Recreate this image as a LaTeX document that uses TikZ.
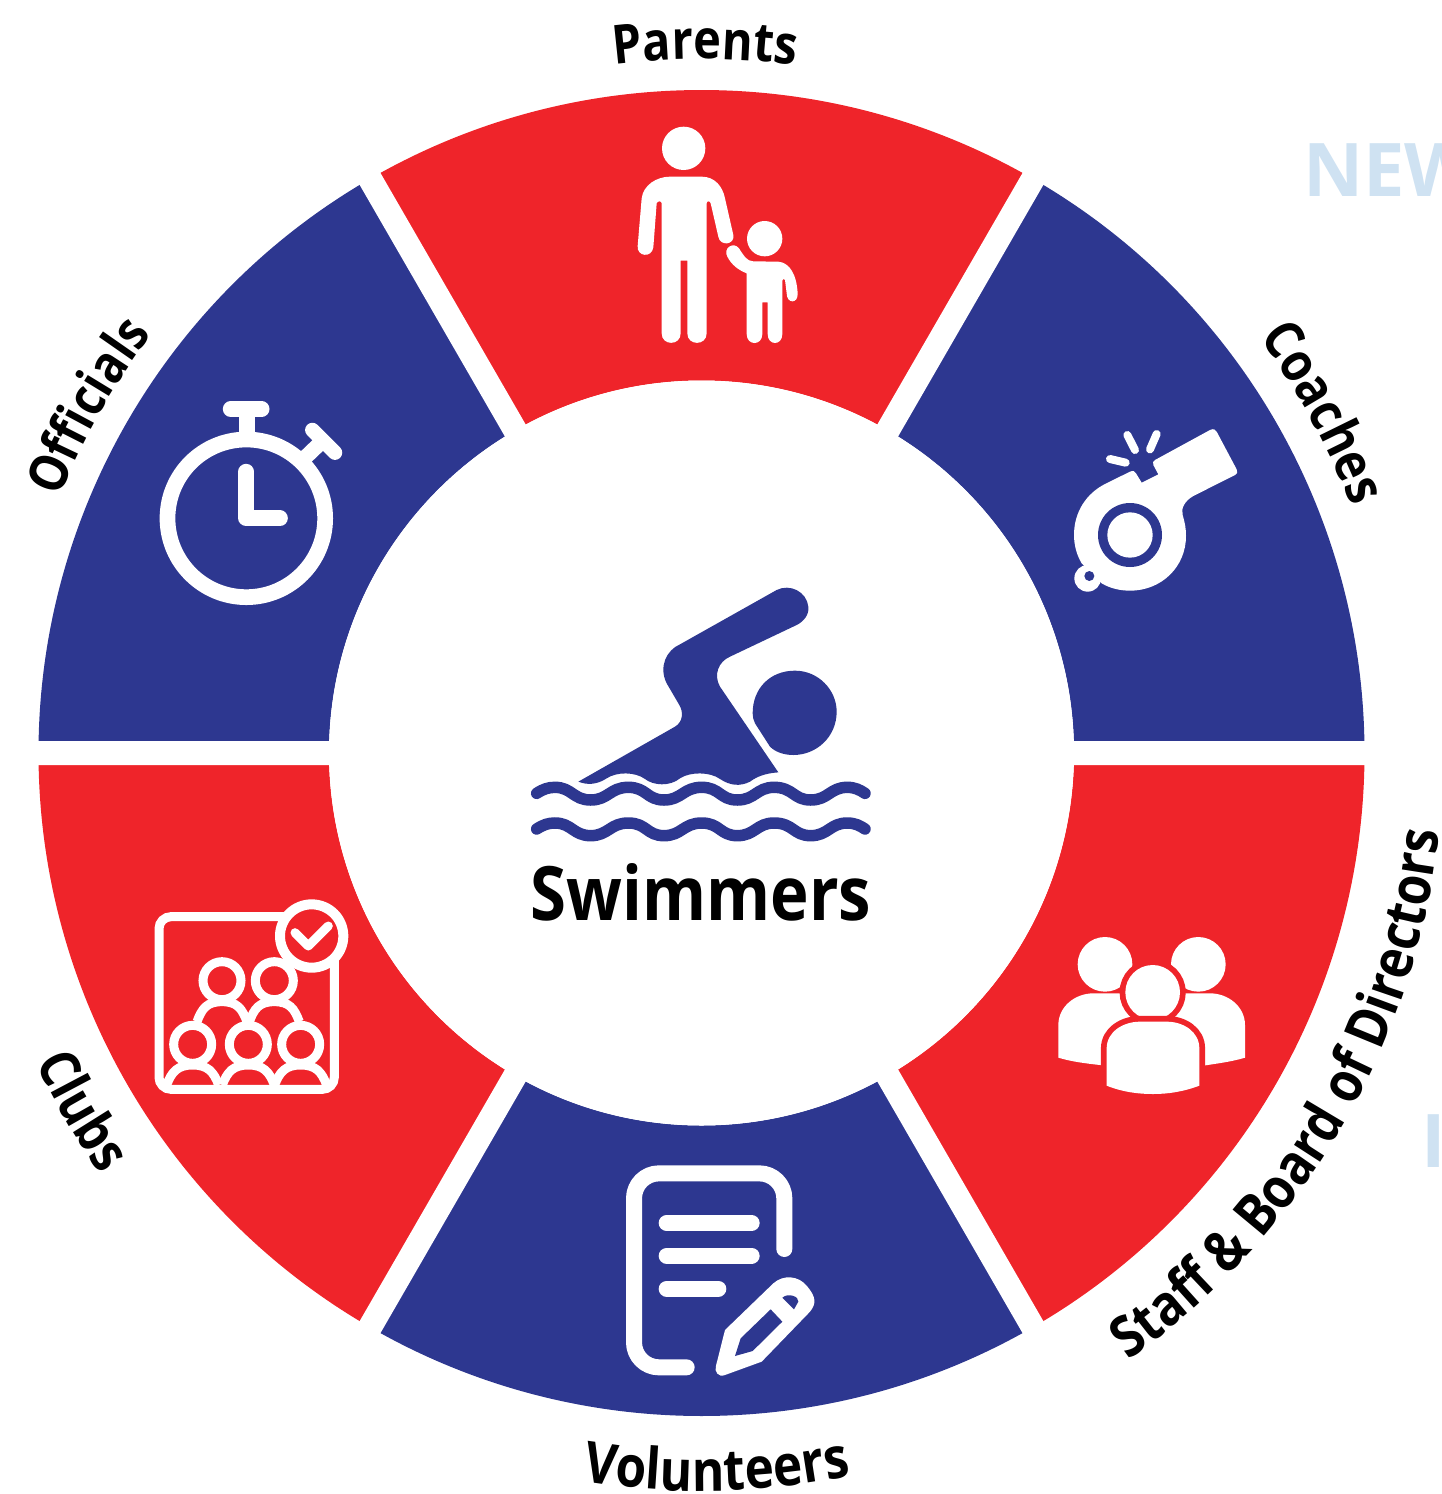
\documentclass[tikz,border=0pt]{standalone}
\usepackage{fontspec}
\setmainfont[FakeStretch=0.87]{Open Sans}
\newfontfamily\fadefont{Open Sans}
\usetikzlibrary{decorations.text}
\definecolor{ringred}{HTML}{EF242A}
\definecolor{ringblue}{HTML}{2D3790}
\definecolor{fadeblue}{HTML}{CFE2F2}
% font size, radius, start angle, end angle, text
\newcommand{\ringlabel}[5][54]{%
  \path[decorate,decoration={text along path,text align=center,text={|\bfseries\fontsize{#1}{60}\selectfont|#5}}]
    (#3:#2) arc (#3:#4:#2);}
\tikzset{
  zoomed/.style 2 args={shift={(#1,#2)},scale=0.33333},
  iconfill/.style={fill=white},
  iconline/.style={draw=white,line cap=round,line join=round,line width=#1},
  halo/.style={preaction={draw=ringred,line width=11.5pt},fill=white},
  waveline/.style={draw=ringblue,line cap=round,line width=11.5pt}
}
\begin{document}
\begin{tikzpicture}[x=1pt,y=-1pt]
\useasboundingbox (0,0) rectangle (1441,1494);

% Faded fragments
\node[anchor=base west,inner sep=0pt,text=fadeblue,font=\fadefont\bfseries\fontsize{74}{80}\selectfont] (newword) at (1303,196) {NEW};
\node[anchor=base west,inner sep=0pt,text=fadeblue,font=\fadefont\bfseries\fontsize{74}{80}\selectfont] (cutword) at (1421,1167) {I};

% Ring
\begin{scope}[shift={(701.5,753)},y=1pt]
\foreach \from/\col in {60/ringred,0/ringblue,-60/ringred,-120/ringblue,180/ringred,120/ringblue}
  \fill[\col] (\from:372.5) -- (\from:663) arc (\from:\from+60:663) -- (\from+60:372.5) arc (\from+60:\from:372.5) -- cycle;
\draw[white,line width=24pt] (180:680) -- (0:680) (60:680) -- (240:680) (120:680) -- (300:680);
\fill[white] (0,0) circle (372.5);

% Labels
\ringlabel{694}{100.7}{78.7}{Parents}
\ringlabel{695}{44.7}{12.7}{Coaches}
\ringlabel[57]{742}{-61.5}{0.5}{Staff {\&} Board of Directors}
\ringlabel[57]{738}{259}{283.4}{Volunteers}
\ringlabel[55]{734}{195}{225}{Clubs}
\ringlabel[53]{691}{165.5}{135.5}{Officials}
\end{scope}

% Swimmer
\begin{scope}[zoomed={520}{575}]
\fill[ringblue] (175,620) -- (465,455) .. controls (490,440) and (490,410) .. (478,390) -- (440,325)
  .. controls (415,275) and (440,225) .. (480,208) -- (770,45) .. controls (810,25) and (860,50) .. (865,95)
  .. controls (868,120) and (850,140) .. (830,150) -- (630,245) .. controls (595,260) and (580,300) .. (600,335)
  -- (775,592) .. controls (735,595) and (710,605) .. (690,620) .. controls (660,635) and (630,632) .. (600,612)
  .. controls (570,590) and (510,590) .. (480,610) .. controls (450,635) and (400,632) .. (375,612)
  .. controls (345,590) and (290,590) .. (260,610) .. controls (230,630) and (200,630) .. (175,620) -- cycle;
\fill[ringblue] (698,415) .. controls (698,340) and (750,287) .. (825,287) .. controls (895,287) and (950,345) .. (950,410)
  .. controls (950,485) and (890,540) .. (820,540) .. controls (790,540) and (765,530) .. (750,515)
  -- (705,445) .. controls (700,435) and (698,425) .. (698,415) -- cycle;
\foreach \wavey in {0,107}
  \draw[waveline,shift={(0,\wavey)}] (50,655) .. controls (70,642) and (85,637) .. (105,637)
    .. controls (155,637) and (160,675) .. (212,675) .. controls (265,675) and (270,637) .. (325,637)
    .. controls (380,637) and (380,675) .. (432,675) .. controls (485,675) and (490,637) .. (545,637)
    .. controls (600,637) and (600,675) .. (652,675) .. controls (705,675) and (710,637) .. (762,637)
    .. controls (820,637) and (820,675) .. (872,675) .. controls (925,675) and (930,637) .. (982,637)
    .. controls (1005,637) and (1020,645) .. (1035,655);
\end{scope}
\node[anchor=base,inner sep=0pt,font=\bfseries\fontsize{75}{90}\selectfont] (swimmers) at (701,920) {Swimmers};

% Parents icon
\begin{scope}[zoomed={620}{110}]
\fill[iconfill] (191,115) circle (65);
\fill[iconfill] (150,200) -- (245,200) .. controls (285,200) and (308,230) .. (315,265) -- (340,375)
  .. controls (345,405) and (300,410) .. (295,380) -- (272,280) .. controls (270,272) and (260,272) .. (260,280)
  -- (260,670) .. controls (260,708) and (202,708) .. (202,670) -- (202,452) -- (182,452) -- (182,670)
  .. controls (182,708) and (125,708) .. (125,670) -- (125,280) .. controls (125,272) and (112,272) .. (110,280)
  -- (100,412) .. controls (95,445) and (50,440) .. (53,408) -- (65,265) .. controls (70,225) and (110,200) .. (150,200) -- cycle;
\fill[iconfill] (434,386) circle (53);
\fill[iconfill] (400,454) -- (475,455) .. controls (510,458) and (530,495) .. (533,550)
  .. controls (535,582) and (500,582) .. (500,550) -- (495,510) .. controls (493,505) and (487,505) .. (487,512)
  -- (487,672) .. controls (487,708) and (443,708) .. (443,672) -- (443,577) -- (427,577) -- (427,672)
  .. controls (427,708) and (380,708) .. (380,672) -- (380,490) .. controls (355,480) and (335,465) .. (322,440)
  .. controls (308,415) and (340,393) .. (357,415) .. controls (370,435) and (380,454) .. (400,454) -- cycle;
\end{scope}

% Coaches icon
\begin{scope}[zoomed={1050}{410}]
\fill[iconfill] (315,150) -- (480,60) .. controls (490,55) and (497,58) .. (500,65) -- (560,178)
  .. controls (564,186) and (562,192) .. (555,195) -- (430,258) .. controls (405,272) and (392,295) .. (398,315)
  .. controls (405,340) and (408,355) .. (408,378) .. controls (408,470) and (335,542) .. (240,542)
  .. controls (210,542) and (180,535) .. (155,520) -- (95,460) .. controls (80,435) and (72,405) .. (72,375)
  .. controls (72,305) and (110,250) .. (165,222) -- (240,185) .. controls (250,180) and (255,185) .. (258,190)
  -- (275,218) -- (325,193) -- (310,165) .. controls (307,158) and (310,153) .. (315,150) -- cycle;
\fill[ringblue] (240,375) circle (96);
\fill[iconfill] (240,375) circle (68);
\fill[iconfill] (113,505) circle (40);
\fill[ringblue] (118,498) circle (15);
\draw[iconline=8pt] (232,75) -- (255,120) (320,72) -- (300,118) (180,147) -- (227,158);
\end{scope}

% Officials icon
\begin{scope}[zoomed={140}{390}]
\draw[iconline=15.7pt] (319,385) circle (236.5);
\draw[iconline=15.7pt] (319,245) -- (319,385) -- (420,385);
\draw[iconline=15.7pt] (272,57) -- (365,57);
\fill[iconfill] (296,57) rectangle (344,140);
\draw[white,line width=15pt] (490,208) -- (540,160);
\draw[iconline=14.5pt] (517,120) -- (585,188);
\end{scope}

% Clubs icon
\begin{scope}[zoomed={140}{890}]
\draw[white,line width=9pt,rounded corners=12pt] (515,80) -- (57,80) -- (57,598) -- (583,598) -- (583,150);
\foreach \hx/\hy in {246/272,403/272,158/463,325/463,482/463}
  \draw[white,line width=9pt] (\hx,\hy) circle (57);
\foreach \sx/\sy/\sw in {246/395/75,403/395/75,158/585/78,325/585/78,482/585/78}
  \draw[white,line width=9pt] (\sx-\sw,\sy) .. controls (\sx-\sw+15,\sy-40) and (\sx-45,\sy-60) .. (\sx,\sy-60)
    .. controls (\sx+45,\sy-60) and (\sx+\sw-15,\sy-40) .. (\sx+\sw,\sy);
\draw[white,fill=ringred,line width=10pt] (515,138) circle (95);
\draw[iconline=9pt] (465,128) -- (505,168) -- (565,108);
\end{scope}

% Staff icon
\begin{scope}[zoomed={1040}{925}]
\fill[iconfill] (195,118) circle (82);
\fill[iconfill] (475,118) circle (82);
\fill[iconfill] (55,398) -- (55,300) .. controls (55,245) and (105,205) .. (160,205) -- (340,205) -- (340,430) -- (180,420) .. controls (135,415) and (95,410) .. (55,398) -- cycle;
\fill[iconfill] (615,398) -- (615,300) .. controls (615,245) and (565,205) .. (510,205) -- (340,205) -- (340,430) -- (490,422) .. controls (535,415) and (575,410) .. (615,398) -- cycle;
\path[halo] (338,202) circle (82);
\path[halo] (200,482) -- (200,370) .. controls (200,320) and (250,290) .. (300,290) -- (380,290)
  .. controls (430,290) and (478,320) .. (478,370) -- (478,482) .. controls (430,500) and (385,507) .. (340,507)
  .. controls (290,507) and (245,500) .. (200,482) -- cycle;
\end{scope}

% Volunteers icon
\begin{scope}[zoomed={610}{1155}]
\draw[iconline=16pt,rounded corners=25pt] (230,637) -- (72,637) -- (72,55) -- (523,55) -- (523,282);
\draw[iconline=16pt] (170,204) -- (425,204) (170,302) -- (425,302) (170,401) -- (325,401);
\fill[iconfill] (345,525) -- (490,385) .. controls (520,358) and (565,362) .. (590,392)
  .. controls (618,425) and (620,445) .. (600,470) -- (455,620) -- (345,660)
  .. controls (325,668) and (312,650) .. (318,632) -- cycle;
\fill[ringblue] (375,603) -- (392,550) -- (482,463) -- (517,500) -- (428,588) -- cycle;
\fill[ringblue] (517,428) .. controls (535,412) and (568,425) .. (565,440) -- (552,463) -- cycle;
\end{scope}
\end{tikzpicture}
\end{document}
